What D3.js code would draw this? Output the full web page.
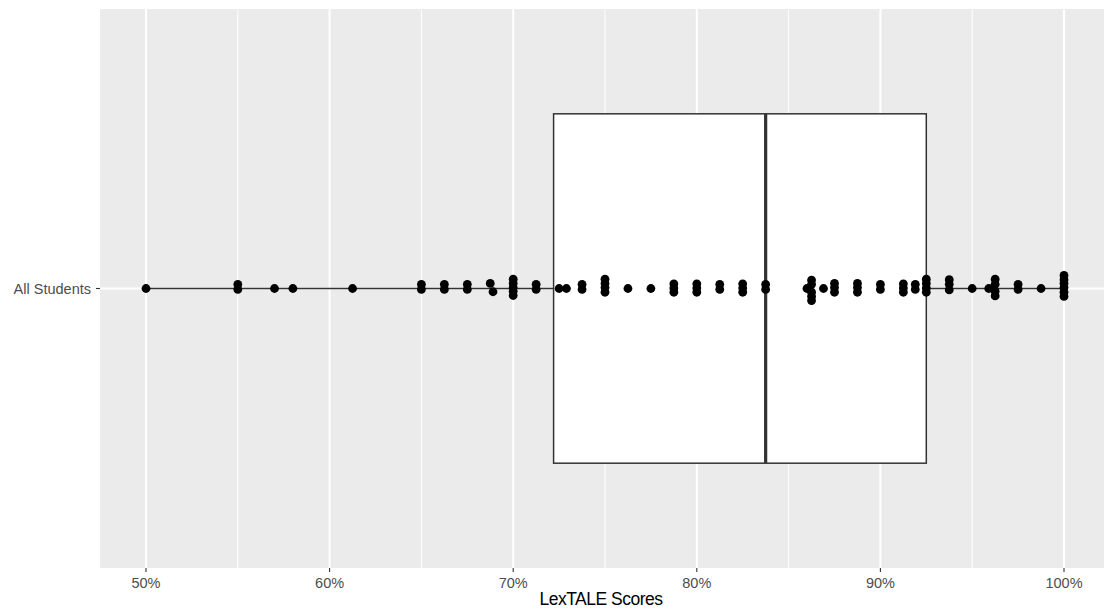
<!DOCTYPE html>
<html>
<head>
<meta charset="utf-8">
<script src="https://cdn.jsdelivr.net/npm/d3@7"></script>
<style>
  html, body { margin: 0; padding: 0; background: #ffffff; }
  svg { display: block; }
</style>
</head>
<body>
<div id="chart"></div>
<script>
// ---- Data ----
const categories = ["All Students"];
const xTicks = [50, 60, 70, 80, 90, 100];
const xMinorTicks = [55, 65, 75, 85, 95];
// Box summary (percent)
const boxStats = { min: 50, q1: 72.2, median: 83.75, q3: 92.5, max: 100 };
// Individual scores (percent) with the vertical jitter seen in the plot (category units)
const scores = [
  50, 55, 55, 57, 58, 61.25,
  65, 65, 66.25, 66.25, 67.5, 67.5,
  68.75, 68.9, 70, 70, 70, 70, 70, 71.25, 71.25,
  72.5, 72.9, 73.75, 73.75, 75, 75, 75, 75, 76.25,
  77.5, 78.75, 78.75, 78.75, 80, 80, 80, 81.25, 81.25,
  82.5, 82.5, 82.5, 83.75, 83.75,
  86, 86.25, 86.25, 86.25, 86.25, 86.25,
  86.9, 87.5, 87.5, 87.5, 88.75, 88.75, 88.75, 90, 90,
  91.25, 91.25, 91.25, 91.9, 91.9, 92.5, 92.5, 92.5, 92.5,
  93.75, 93.75, 93.75, 95, 95.9, 96.25, 96.25, 96.25, 96.25,
  97.5, 97.5, 98.75, 100, 100, 100, 100, 100, 100
];
const jitter = [
  0, 0.009, -0.002, 0, 0, 0,
  0.009, -0.002, 0.009, -0.002, 0.009, -0.002,
  0.011, -0.007, 0.020, 0.011, 0.002, -0.006, -0.015, 0.009, -0.002,
  0, 0, 0.009, -0.002, 0.020, 0.011, 0.002, -0.008, 0,
  0, 0.010, 0.001, -0.008, 0.010, 0.001, -0.008, 0.009, -0.002,
  0.010, 0.001, -0.008, 0.009, -0.002,
  0, 0.018, 0.009, -0.008, -0.017, -0.026,
  0, 0.011, 0.002, -0.008, 0.011, 0.002, -0.008, 0.009, -0.002,
  0.010, 0.001, -0.008, 0.009, -0.002, 0.020, 0.011, 0.001, -0.008,
  0.019, 0.009, -0.003, 0, 0, 0.020, 0.009, -0.006, -0.016,
  0.009, -0.002, 0, 0.028, 0.019, 0.011, 0.002, -0.008, -0.017
];

// ---- Layout ----
const W = 1104, H = 611;
const panel = { left: 100, top: 9, right: 1104, bottom: 568 };

const svg = d3.select("#chart").append("svg")
  .attr("width", W).attr("height", H);

const x = d3.scaleLinear().domain([50, 100]).range([146, 1064]);
const y = d3.scaleLinear().domain([0.4, 1.6]).range([panel.bottom, panel.top]);
const catPos = d3.scaleOrdinal().domain(categories).range([1]);

// panel background
svg.append("rect")
  .attr("x", panel.left).attr("y", panel.top)
  .attr("width", panel.right - panel.left).attr("height", panel.bottom - panel.top)
  .attr("fill", "#EBEBEB");

// minor gridlines
svg.append("g").selectAll("line").data(xMinorTicks).join("line")
  .attr("x1", d => x(d)).attr("x2", d => x(d))
  .attr("y1", panel.top).attr("y2", panel.bottom)
  .attr("stroke", "#ffffff").attr("stroke-width", 1);

// major gridlines
svg.append("g").selectAll("line").data(xTicks).join("line")
  .attr("x1", d => x(d)).attr("x2", d => x(d))
  .attr("y1", panel.top).attr("y2", panel.bottom)
  .attr("stroke", "#ffffff").attr("stroke-width", 2);
svg.append("g").selectAll("line").data(categories).join("line")
  .attr("x1", panel.left).attr("x2", panel.right)
  .attr("y1", d => y(catPos(d))).attr("y2", d => y(catPos(d)))
  .attr("stroke", "#ffffff").attr("stroke-width", 2);

// boxplot
const c = catPos(categories[0]);
const half = 0.375;
const g = svg.append("g");
g.append("line")
  .attr("x1", x(boxStats.min)).attr("x2", x(boxStats.q1))
  .attr("y1", y(c)).attr("y2", y(c))
  .attr("stroke", "#333333").attr("stroke-width", 1.5);
g.append("line")
  .attr("x1", x(boxStats.q3)).attr("x2", x(boxStats.max))
  .attr("y1", y(c)).attr("y2", y(c))
  .attr("stroke", "#333333").attr("stroke-width", 1.5);
g.append("rect")
  .attr("x", x(boxStats.q1)).attr("y", y(c + half))
  .attr("width", x(boxStats.q3) - x(boxStats.q1))
  .attr("height", y(c - half) - y(c + half))
  .attr("fill", "#ffffff").attr("stroke", "#333333").attr("stroke-width", 1.5);
g.append("line")
  .attr("x1", x(boxStats.median)).attr("x2", x(boxStats.median))
  .attr("y1", y(c + half)).attr("y2", y(c - half))
  .attr("stroke", "#333333").attr("stroke-width", 3.2);

// points
svg.append("g").selectAll("circle").data(scores).join("circle")
  .attr("cx", d => x(d))
  .attr("cy", (d, i) => y(c + jitter[i]))
  .attr("r", 4.4)
  .attr("fill", "#000000");

// x axis
const xAxis = svg.append("g").attr("transform", `translate(0,${panel.bottom})`);
xAxis.selectAll("line").data(xTicks).join("line")
  .attr("x1", d => x(d)).attr("x2", d => x(d))
  .attr("y1", 0).attr("y2", 4)
  .attr("stroke", "#333333").attr("stroke-width", 1.1);
xAxis.selectAll("text").data(xTicks).join("text")
  .attr("x", d => x(d)).attr("y", 20)
  .attr("text-anchor", "middle")
  .attr("font-family", "Liberation Sans, Arial, sans-serif")
  .attr("font-size", 14.5)
  .attr("fill", "#4D4D4D")
  .text(d => d + "%");

// y axis
const yAxis = svg.append("g").attr("transform", `translate(${panel.left},0)`);
yAxis.selectAll("line").data(categories).join("line")
  .attr("x1", -4).attr("x2", 0)
  .attr("y1", d => y(catPos(d))).attr("y2", d => y(catPos(d)))
  .attr("stroke", "#333333").attr("stroke-width", 1.1);
yAxis.selectAll("text").data(categories).join("text")
  .attr("x", -9).attr("y", d => y(catPos(d)))
  .attr("dy", "0.35em")
  .attr("text-anchor", "end")
  .attr("font-family", "Liberation Sans, Arial, sans-serif")
  .attr("font-size", 14.5)
  .attr("fill", "#4D4D4D")
  .text(d => d);

// axis title
svg.append("text")
  .attr("x", (panel.left + panel.right) / 2 - 1)
  .attr("y", 605)
  .attr("text-anchor", "middle")
  .attr("font-family", "Liberation Sans, Arial, sans-serif")
  .attr("font-size", 17.5)
  .attr("letter-spacing", -0.5)
  .attr("fill", "#000000")
  .text("LexTALE Scores");
</script>
</body>
</html>
